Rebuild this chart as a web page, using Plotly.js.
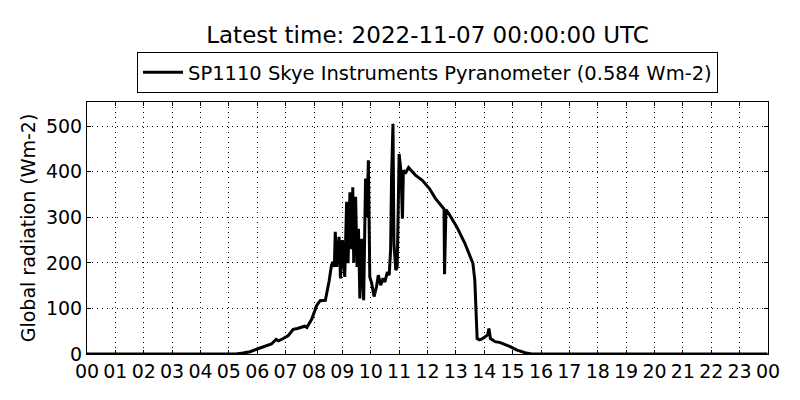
<!DOCTYPE html>
<html>
<head>
<meta charset="utf-8">
<script src="https://cdn.plot.ly/plotly-3.0.1.min.js"></script>
<style>
    html, body {margin: 0; padding: 0; background: #fff;}
    #chart {width: 800px; height: 400px;}
</style>
</head>
<body>
<div id="chart"></div>
<script>
// Pyranometer readings for 2022-11-06 (UTC)
const day = '2022-11-06';
const dayEnd = '2022-11-07 00:00';
const seriesName = 'SP1110 Skye Instruments Pyranometer (0.584 Wm-2)';
const titleText = 'Latest time: 2022-11-07 00:00:00 UTC';

const times = [
    '00:00', '05:00', '05:15', '05:30', '05:45', '06:00', '06:10', '06:20', '06:30', '06:40',
    '06:45', '06:55', '07:05', '07:10', '07:16', '07:25', '07:35', '07:40', '07:45', '07:55',
    '08:06', '08:13', '08:24', '08:32', '08:37', '08:40', '08:43', '08:45', '08:48', '08:53',
    '08:56', '09:00', '09:05', '09:09', '09:12', '09:14', '09:16', '09:18', '09:19', '09:21',
    '09:22', '09:24', '09:25', '09:27', '09:28', '09:31', '09:34', '09:37', '09:41', '09:45',
    '09:49', '09:51', '09:52', '09:55', '09:58', '10:02', '10:07', '10:12', '10:16', '10:21',
    '10:26', '10:30', '10:35', '10:39', '10:42', '10:44', '10:47', '10:49', '10:53', '10:56',
    '11:00', '11:04', '11:07', '11:09', '11:13', '11:20', '11:35', '11:49', '12:04', '12:17',
    '12:32', '12:35', '12:36', '12:39', '12:44', '13:02', '13:19', '13:36', '13:40', '13:42',
    '13:45', '13:50', '13:55', '14:02', '14:07', '14:10', '14:13', '14:23', '14:34', '14:55',
    '15:08', '15:26', '15:40', '23:59'
];
const radiation = [
    0, 0, 0, 2, 5, 11, 15, 18, 22, 32,
    29, 34, 40, 46, 54, 56, 60, 61, 58, 76,
    107, 117, 118, 160, 195, 202, 191, 268, 191, 257,
    166, 250, 169, 334, 199, 300, 355, 230, 330, 250,
    366, 200, 315, 290, 345, 191, 275, 122, 253, 118,
    385, 300, 315, 425, 169, 155, 126, 147, 173, 151,
    166, 158, 180, 173, 228, 388, 505, 242, 184, 191,
    439, 399, 297, 403, 396, 409, 392, 381, 363, 341,
    322, 318, 175, 317, 310, 279, 243, 199, 162, 100,
    34, 31, 33, 38, 42, 56, 34, 27, 25, 16,
    9, 3, 0, 0
];

const axisFont = {family: 'DejaVu Sans, sans-serif', size: 19, color: 'black'};

const trace = {
    type: 'scatter',
    mode: 'lines',
    name: seriesName,
    x: times.map(t => day + ' ' + t),
    y: radiation,
    line: {color: 'black', width: 3}
};

const layout = {
    width: 800,
    height: 400,
    margin: {l: 87, r: 32, t: 102, b: 46},
    paper_bgcolor: 'white',
    plot_bgcolor: 'white',
    font: axisFont,
    showlegend: true,
    title: {
        text: titleText,
        font: {family: 'DejaVu Sans, sans-serif', size: 23, color: 'black'},
        xref: 'paper',
        x: 0.5,
        y: 0.912,
        yanchor: 'middle'
    },
    legend: {
        x: 0.5,
        xanchor: 'center',
        y: 1.117,
        yanchor: 'middle',
        orientation: 'h',
        bordercolor: 'black',
        borderwidth: 1,
        itemwidth: 40,
        font: {family: 'DejaVu Sans, sans-serif', size: 19.5, color: 'black'}
    },
    xaxis: {
        type: 'date',
        range: [day + ' 00:00', dayEnd],
        tick0: day + ' 00:00',
        dtick: 3600000,
        tickformat: '%H',
        ticks: 'inside',
        ticklen: 4,
        tickcolor: 'black',
        showline: true,
        linecolor: 'black',
        linewidth: 1,
        mirror: 'ticks',
        showgrid: true,
        gridcolor: 'black',
        griddash: '1px,4px',
        gridwidth: 1,
        zeroline: false,
        tickfont: axisFont
    },
    yaxis: {
        range: [0, 553],
        dtick: 100,
        ticks: 'inside',
        ticklen: 4,
        tickcolor: 'black',
        showline: true,
        linecolor: 'black',
        linewidth: 1,
        mirror: 'ticks',
        showgrid: true,
        gridcolor: 'black',
        griddash: '1px,4px',
        gridwidth: 1,
        zeroline: false,
        tickfont: axisFont,
        title: {
            text: 'Global radiation (Wm-2)',
            font: {family: 'DejaVu Sans, sans-serif', size: 19, color: 'black'},
            standoff: 5
        }
    }
};

Plotly.newPlot('chart', [trace], layout, {displayModeBar: false, staticPlot: true});
</script>
</body>
</html>
